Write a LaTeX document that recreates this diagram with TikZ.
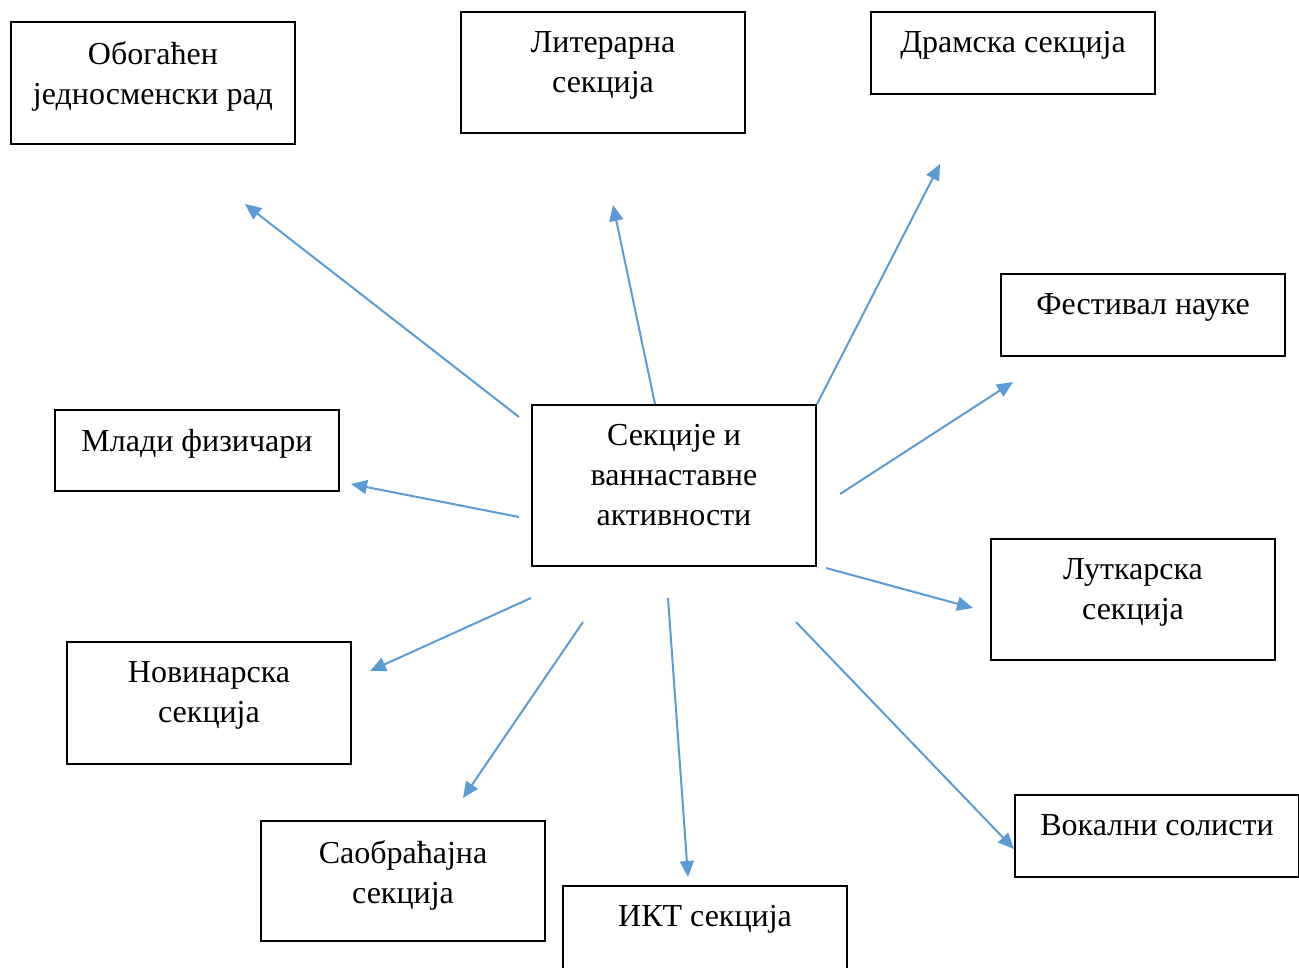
\documentclass[tikz,border=0pt]{standalone}
\usepackage{fontspec}
\setmainfont{Liberation Serif}
\usetikzlibrary{positioning,arrows.meta}
\definecolor{arrblue}{HTML}{5B9BD5}

\begin{document}
\begin{tikzpicture}[x=1pt, y=-1pt,
  box/.style = {draw, line width=1.4pt, minimum width=284pt, inner sep=0pt},
  txt/.style = {inner sep=0pt, align=center,
    font=\fontsize{32}{40}\selectfont},
  arr/.style = {arrblue, line width=2pt,
    -{Triangle[length=16pt,width=14pt]}}
  ]
  \useasboundingbox (0,0) rectangle (1299,968);

  \node (obog)  [box, minimum height=122pt] at (153,83)    {};
  \node (liter) [box, minimum height=121pt] at (603,72.5)  {};
  \node (drama) [box, minimum height=82pt]  at (1013,53)   {};
  \node (fest)  [box, minimum height=82pt]  at (1143,315)  {};
  \node (mladi) [box, minimum height=81pt]  at (197,450.5) {};
  \node (sekc)  [box, minimum height=161pt] at (674,485.5) {};
  \node (lutk)  [box, minimum height=121pt] at (1133,599.5) {};
  \node (novin) [box, minimum height=122pt] at (209,703)   {};
  \node (saobr) [box, minimum height=120pt] at (403,881)   {};
  \node (ikt)   [box, minimum height=122pt] at (705,947)   {};
  \node (vokal) [box, minimum height=82pt]  at (1157,836)  {};

  \node [txt, below=20pt of obog.north]  {Обогаћен\\једносменски рад};
  \node [txt, below=20pt of liter.north] {Литерарна\\секција};
  \node [txt, below=20pt of drama.north] {Драмска секција};
  \node [txt, below=20pt of fest.north]  {Фестивал науке};
  \node [txt, below=20pt of mladi.north] {Млади физичари};
  \node [txt, below=20pt of sekc.north]  {Секције и\\ваннаставне\\активности};
  \node [txt, below=20pt of lutk.north]  {Луткарска\\секција};
  \node [txt, below=20pt of novin.north] {Новинарска\\секција};
  \node [txt, below=20pt of saobr.north] {Саобраћајна\\секција};
  \node [txt, below=20pt of ikt.north]   {ИКТ секција};
  \node [txt, below=20pt of vokal.north] {Вокални солисти};

  % free arrows round the middle box
  \coordinate (s1) at (519,417);  \coordinate (t1) at (245,204);
  \coordinate (s2) at (655,404);  \coordinate (t2) at (613,205);
  \coordinate (s3) at (817,404);  \coordinate (t3) at (940,164);
  \coordinate (s4) at (840,494);  \coordinate (t4) at (1013,382);
  \coordinate (s5) at (519,517);  \coordinate (t5) at (351,484);
  \coordinate (s6) at (826,568);  \coordinate (t6) at (973,608);
  \coordinate (s7) at (531,598);  \coordinate (t7) at (370,671);
  \coordinate (s8) at (583,622);  \coordinate (t8) at (463,798);
  \coordinate (s9) at (668,598);  \coordinate (t9) at (688,877);
  \coordinate (s10) at (796,622); \coordinate (t10) at (1014,849);

  \foreach \i in {1,...,10}
    \draw [arr] (s\i) -- (t\i);
\end{tikzpicture}
\end{document}
